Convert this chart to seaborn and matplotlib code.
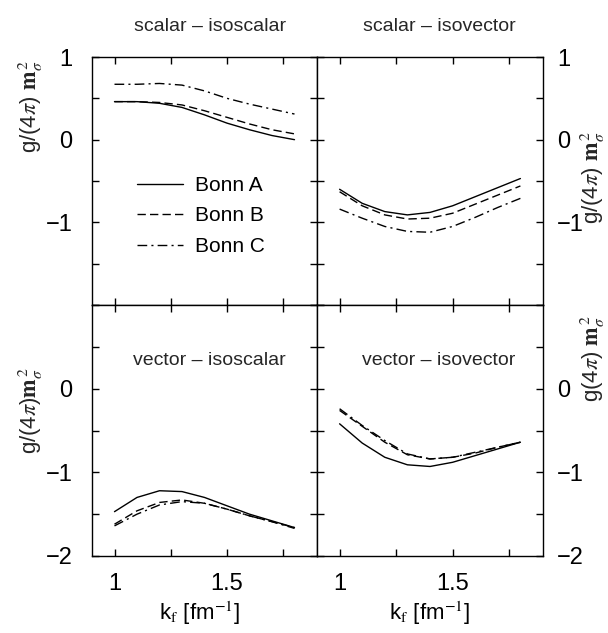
import numpy as np
import pandas as pd
import matplotlib
matplotlib.use("Agg")
import matplotlib.pyplot as plt
from matplotlib import font_manager
import seaborn as sns

# ---- data ----
kf = [1.0, 1.1, 1.2, 1.3, 1.4, 1.5, 1.6, 1.7, 1.8]
models = ["Bonn A", "Bonn B", "Bonn C"]

ss_A = [0.46, 0.46, 0.44, 0.39, 0.30, 0.20, 0.12, 0.05, 0.00]
ss_B = [0.46, 0.46, 0.45, 0.42, 0.35, 0.27, 0.19, 0.12, 0.07]
ss_C = [0.67, 0.67, 0.68, 0.66, 0.59, 0.50, 0.43, 0.37, 0.31]

sv_A = [-0.60, -0.77, -0.87, -0.91, -0.88, -0.80, -0.69, -0.58, -0.47]
sv_B = [-0.63, -0.80, -0.91, -0.96, -0.95, -0.89, -0.78, -0.67, -0.56]
sv_C = [-0.84, -0.95, -1.05, -1.11, -1.12, -1.05, -0.94, -0.82, -0.71]

vs_A = [-1.47, -1.30, -1.22, -1.23, -1.30, -1.40, -1.50, -1.58, -1.66]
vs_B = [-1.62, -1.46, -1.36, -1.33, -1.37, -1.44, -1.52, -1.59, -1.66]
vs_C = [-1.64, -1.50, -1.39, -1.35, -1.37, -1.44, -1.52, -1.59, -1.67]

vv_A = [-0.42, -0.65, -0.82, -0.91, -0.93, -0.88, -0.80, -0.72, -0.64]
vv_B = [-0.26, -0.45, -0.64, -0.79, -0.84, -0.82, -0.77, -0.70, -0.64]
vv_C = [-0.24, -0.44, -0.62, -0.78, -0.84, -0.82, -0.76, -0.70, -0.64]

panel_titles = ["scalar \u2013 isoscalar", "scalar \u2013 isovector",
                "vector \u2013 isoscalar", "vector \u2013 isovector"]
xtick_pos = [1.0, 1.25, 1.5, 1.75]
xtick_lab = ["1", "", "1.5", ""]
ytick_pos = [-2, -1.5, -1, -0.5, 0, 0.5, 1]
ytick_lab_top = ["", "", "\u22121", "", "0", "", "1"]
ytick_lab_bot = ["\u22122", "", "\u22121", "", "0", "", ""]

def make_df(a, b, c):
    rows = []
    for m, vals in zip(models, [a, b, c]):
        for x, y in zip(kf, vals):
            rows.append({"kf": x, "g": y, "model": m})
    return pd.DataFrame(rows)

panels = [make_df(ss_A, ss_B, ss_C), make_df(sv_A, sv_B, sv_C),
          make_df(vs_A, vs_B, vs_C), make_df(vv_A, vv_B, vv_C)]

sns.set_theme(style="white")
plt.rcParams["font.family"] = ["Liberation Sans", "DejaVu Sans"]
plt.rcParams["mathtext.fontset"] = "stix"

names = {f.name for f in font_manager.fontManager.ttflist}
narrow = "Liberation Sans Narrow" if "Liberation Sans Narrow" in names else "Liberation Sans"
narrow_ok = narrow == "Liberation Sans Narrow"
tsize = 16.5 if narrow_ok else 14
xlsize = 18 if narrow_ok else 16

W, H = 608, 633
fig = plt.figure(figsize=(W / 100, H / 100), dpi=100)

def box(x0, x1, y0, y1):
    return [x0 / W, 1 - y1 / H, (x1 - x0) / W, (y1 - y0) / H]

axes = [fig.add_axes(box(92, 317, 57, 305)), fig.add_axes(box(317, 543, 57, 305)),
        fig.add_axes(box(92, 317, 305, 556)), fig.add_axes(box(317, 543, 305, 556))]

dashes = {"Bonn A": "", "Bonn B": (6, 3), "Bonn C": (7, 3, 1.5, 3)}

for i, (ax, df) in enumerate(zip(axes, panels)):
    sns.lineplot(data=df, x="kf", y="g", style="model", dashes=dashes,
                 color="black", linewidth=1.0, ax=ax, legend=(i == 0))
    ax.set_xlim(0.9, 1.9)
    ax.set_ylim(-2, 1)
    ax.set_xticks(xtick_pos)
    ax.set_yticks(ytick_pos)
    ax.set_xlabel("")
    ax.set_ylabel("")
    for s in ax.spines.values():
        s.set_color("black")
        s.set_linewidth(1.0)
    ax.tick_params(direction="in", length=5, width=1.0, top=True, bottom=True,
                   left=True, right=True, labelsize=17, colors="black")
    top = i < 2
    leftcol = i % 2 == 0
    ax.set_xticklabels(xtick_lab if not top else [""] * 4)
    if not top:
        ax.tick_params(axis="x", pad=12)
    ax.set_yticklabels(ytick_lab_top if top else ytick_lab_bot)
    if leftcol:
        ax.tick_params(axis="y", labelleft=True, labelright=False, pad=14)
    else:
        ax.tick_params(axis="y", labelleft=False, labelright=True, pad=10)
    if not top:
        ax.set_xlabel("k$_{\\rm f}$ [fm$^{-1}$]", fontsize=xlsize, color="black",
                      family=narrow)
        ax.xaxis.set_label_coords(0.48 if leftcol else 0.5, -0.172)

# legend
leg = axes[0].legend(loc="upper left", bbox_to_anchor=(0.2, 0.52), frameon=False,
                     fontsize=15, handlelength=2.2, handletextpad=0.6,
                     labelspacing=0.55, borderpad=0, borderaxespad=0)
for t in leg.get_texts():
    t.set_color("black")

# titles
fig.text(210 / W, 1 - 31 / H, panel_titles[0], ha="center", va="baseline",
         fontsize=tsize, family=narrow)
fig.text(439 / W, 1 - 31 / H, panel_titles[1], ha="center", va="baseline",
         fontsize=tsize, family=narrow)
axes[2].text(0.523, 0.76, panel_titles[2], transform=axes[2].transAxes,
             ha="center", va="baseline", fontsize=tsize, family=narrow)
axes[3].text(0.54, 0.76, panel_titles[3], transform=axes[3].transAxes,
             ha="center", va="baseline", fontsize=tsize, family=narrow)

# y labels
lab1 = "g/(4$\\pi$) $\\mathbf{m}_{\\sigma}^{\\,2}$"
lab3 = "g/(4$\\pi$)$\\mathbf{m}_{\\sigma}^{\\,2}$"
lab4 = "g(4$\\pi$) $\\mathbf{m}_{\\sigma}^{\\,2}$"
fig.text(31 / W, 1 - 106 / H, lab1, rotation=90, ha="center", va="center", fontsize=16)
fig.text(31 / W, 1 - 410 / H, lab3, rotation=90, ha="center", va="center", fontsize=16)
fig.text(593 / W, 1 - 177 / H, lab1, rotation=90, ha="center", va="center", fontsize=16)
fig.text(593 / W, 1 - 358 / H, lab4, rotation=90, ha="center", va="center", fontsize=16)

fig.savefig("out.png", dpi=100, facecolor="white")
